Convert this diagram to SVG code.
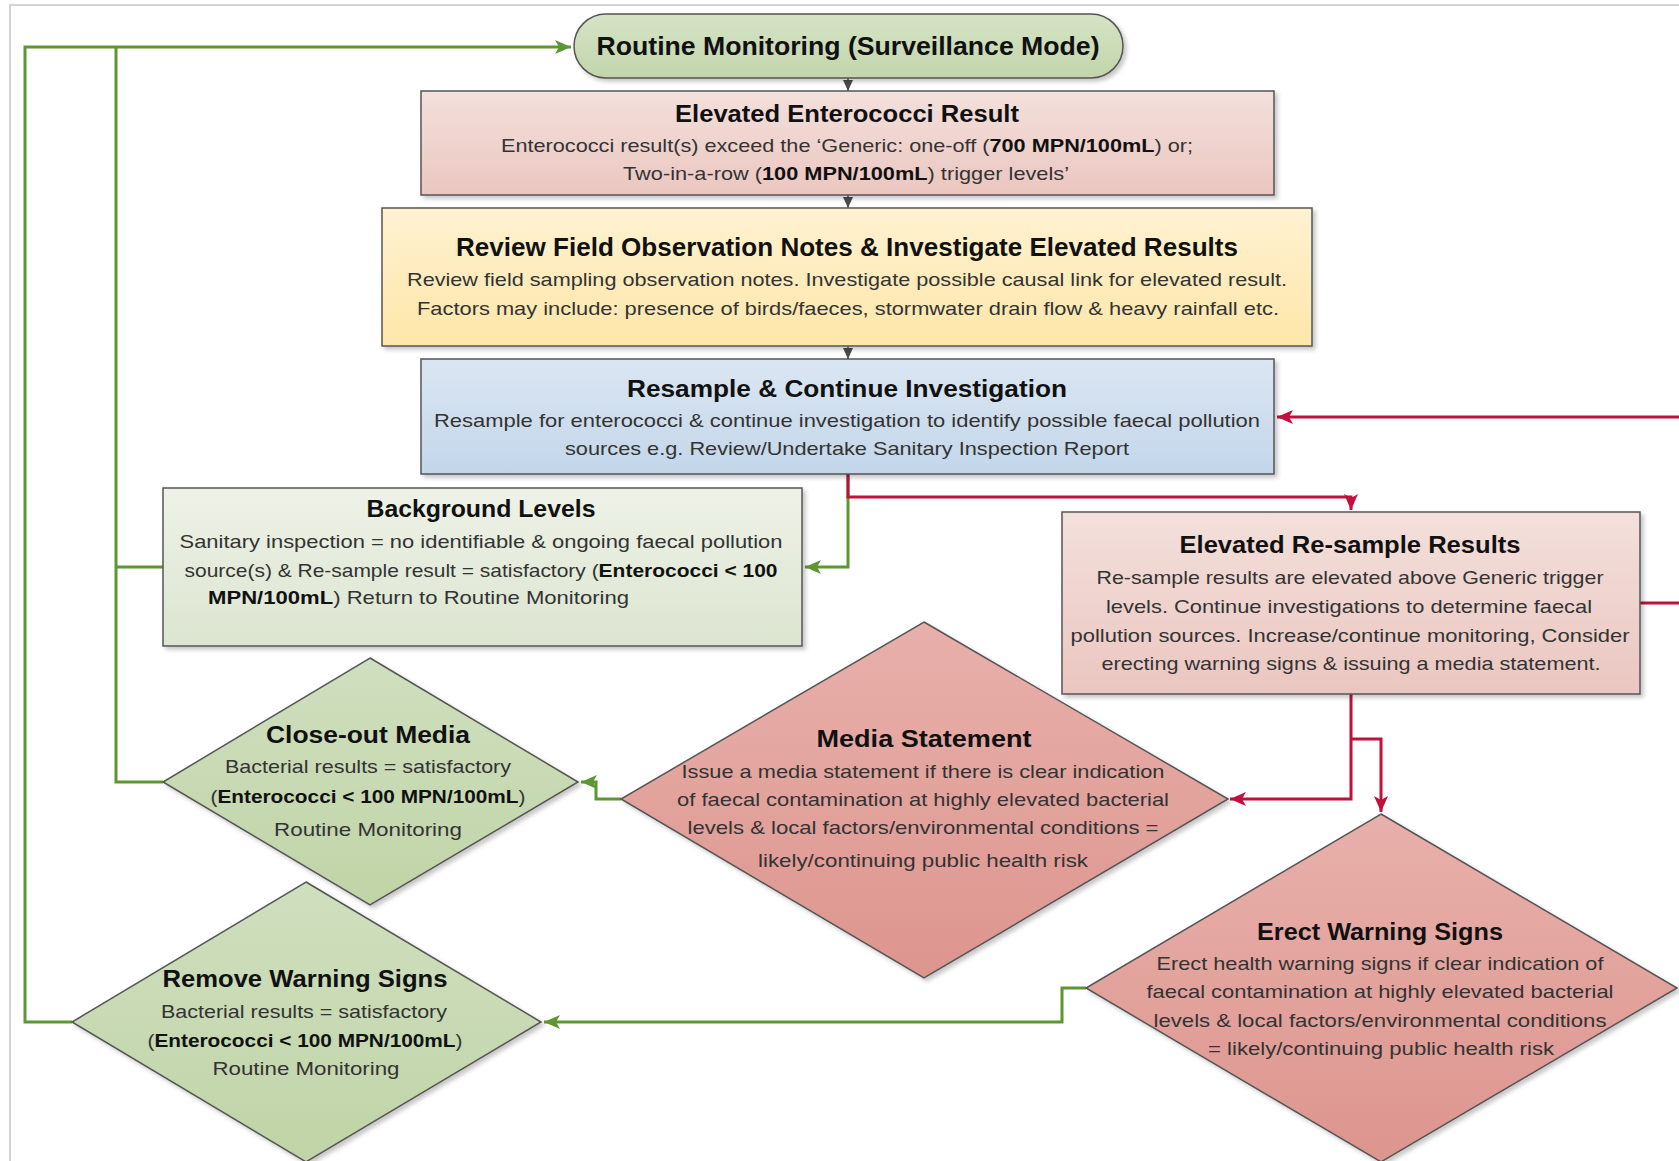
<svg xmlns="http://www.w3.org/2000/svg" width="1679" height="1161" viewBox="0 0 1679 1161">
<style>
text{font-family:"Liberation Sans",Arial,sans-serif;}
.t{font-size:23.5px;font-weight:bold;fill:#111;text-anchor:middle;}
.b{font-size:19px;fill:#333;text-anchor:middle;}
.bb{font-weight:bold;fill:#111;}
.box{stroke:#555;stroke-width:1.5;filter:url(#sh);}
.g{fill:none;stroke:#5e9632;stroke-width:3;}
.r{fill:none;stroke:#c0103c;stroke-width:3;}
.k{fill:none;stroke:#555;stroke-width:1.5;}
</style>
<defs>
<filter id="sh" x="-5%" y="-5%" width="115%" height="115%">
<feDropShadow dx="3" dy="3" stdDeviation="2" flood-color="#000" flood-opacity="0.22"/>
</filter>
<linearGradient id="gGreen" x1="0" y1="0" x2="0" y2="1"><stop offset="0" stop-color="#d6e3c6"/><stop offset="1" stop-color="#c2d5aa"/></linearGradient>
<linearGradient id="gPink" x1="0" y1="0" x2="0" y2="1"><stop offset="0" stop-color="#f3e0dc"/><stop offset="1" stop-color="#ebc6c0"/></linearGradient>
<linearGradient id="gYellow" x1="0" y1="0" x2="0" y2="1"><stop offset="0" stop-color="#fff2d2"/><stop offset="1" stop-color="#fde6a8"/></linearGradient>
<linearGradient id="gBlue" x1="0" y1="0" x2="0" y2="1"><stop offset="0" stop-color="#dbe6f2"/><stop offset="1" stop-color="#c3d6ea"/></linearGradient>
<linearGradient id="gLight" x1="0" y1="0" x2="0" y2="1"><stop offset="0" stop-color="#eef2e8"/><stop offset="1" stop-color="#dce5d0"/></linearGradient>
<linearGradient id="gRed" x1="0" y1="0" x2="0" y2="1"><stop offset="0" stop-color="#e8b0ab"/><stop offset="1" stop-color="#dd958e"/></linearGradient>
<linearGradient id="gDG" x1="0" y1="0" x2="0" y2="1"><stop offset="0" stop-color="#d0dfbf"/><stop offset="1" stop-color="#c0d4a7"/></linearGradient>
<marker id="aG" markerUnits="userSpaceOnUse" markerWidth="17" markerHeight="14" refX="16" refY="7" orient="auto"><path d="M0,0 L16,7 L0,14 L4,7 z" fill="#5e9632"/></marker>
<marker id="aR" markerUnits="userSpaceOnUse" markerWidth="17" markerHeight="14" refX="16" refY="7" orient="auto"><path d="M0,0 L16,7 L0,14 L4,7 z" fill="#c0103c"/></marker>
<marker id="aK" markerUnits="userSpaceOnUse" markerWidth="12" markerHeight="12" refX="11" refY="5" orient="auto"><path d="M0,0 L11,5 L0,10 z" fill="#4a4a4a"/></marker>
</defs>
<rect width="1679" height="1161" fill="#fff"/>
<path d="M10,1161 V5 H1679" fill="none" stroke="#d4d4d4" stroke-width="2"/>

<g id="connectors">
<path class="g" d="M72,1022 H25 V47 H571" marker-end="url(#aG)"/>
<path class="g" d="M163,782 H116 V47"/>
<path class="g" d="M163,567 H116"/>
<path class="g" d="M848,474 V567 H805" marker-end="url(#aG)"/>
<path class="r" d="M848,474 V497 H1351 V510" marker-end="url(#aR)"/>
<path class="r" d="M1640,603 H1700 V417 H1277" marker-end="url(#aR)"/>
<path class="r" d="M1351,694 V799 H1230" marker-end="url(#aR)"/>
<path class="r" d="M1351,739 H1381 V812" marker-end="url(#aR)"/>
<path class="g" d="M621,799 H596 V782 H581" marker-end="url(#aG)"/>
<path class="g" d="M1086,988 H1062 V1022 H544" marker-end="url(#aG)"/>
<path class="k" d="M848,78 V91" marker-end="url(#aK)"/>
<path class="k" d="M848,195 V208" marker-end="url(#aK)"/>
<path class="k" d="M848,346 V359" marker-end="url(#aK)"/>
</g>

<g id="routine">
<rect class="box" x="574" y="14" width="549" height="64" rx="32" fill="url(#gGreen)"/>
<text class="t" x="848" y="55" style="font-size:25px" textLength="503" lengthAdjust="spacingAndGlyphs">Routine Monitoring (Surveillance Mode)</text>
</g>

<g id="elevated-enterococci">
<rect class="box" x="421" y="91" width="853" height="104" fill="url(#gPink)"/>
<text class="t" x="847" y="122" textLength="344" lengthAdjust="spacingAndGlyphs">Elevated Enterococci Result</text>
<text class="b" x="847" y="152" textLength="692" lengthAdjust="spacingAndGlyphs">Enterococci result(s) exceed the ‘Generic: one-off (<tspan class="bb">700 MPN/100mL</tspan>) or;</text>
<text class="b" x="846" y="180" textLength="446" lengthAdjust="spacingAndGlyphs">Two-in-a-row (<tspan class="bb">100 MPN/100mL</tspan>) trigger levels’</text>
</g>

<g id="review">
<rect class="box" x="382" y="208" width="930" height="138" fill="url(#gYellow)"/>
<text class="t" x="847" y="256" style="font-size:25px" textLength="782" lengthAdjust="spacingAndGlyphs">Review Field Observation Notes &amp; Investigate Elevated Results</text>
<text class="b" x="847" y="286" textLength="880" lengthAdjust="spacingAndGlyphs">Review field sampling observation notes. Investigate possible causal link for elevated result.</text>
<text class="b" x="848" y="315" textLength="862" lengthAdjust="spacingAndGlyphs">Factors may include: presence of birds/faeces, stormwater drain flow &amp; heavy rainfall etc.</text>
</g>

<g id="resample">
<rect class="box" x="421" y="359" width="853" height="115" fill="url(#gBlue)"/>
<text class="t" x="847" y="397" textLength="440" lengthAdjust="spacingAndGlyphs">Resample &amp; Continue Investigation</text>
<text class="b" x="847" y="427" textLength="826" lengthAdjust="spacingAndGlyphs">Resample for enterococci &amp; continue investigation to identify possible faecal pollution</text>
<text class="b" x="847" y="455" textLength="564" lengthAdjust="spacingAndGlyphs">sources e.g. Review/Undertake  Sanitary Inspection Report</text>
</g>

<g id="background-levels">
<rect class="box" x="163" y="488" width="639" height="158" fill="url(#gLight)"/>
<text class="t" x="481" y="517" textLength="229" lengthAdjust="spacingAndGlyphs">Background Levels</text>
<text class="b" x="481" y="548" textLength="603" lengthAdjust="spacingAndGlyphs">Sanitary inspection = no identifiable &amp; ongoing faecal pollution</text>
<text class="b" x="481" y="577" textLength="593" lengthAdjust="spacingAndGlyphs">source(s) &amp; Re-sample result = satisfactory (<tspan class="bb">Enterococci &lt; 100</tspan></text>
<text class="b" x="208" y="604" style="text-anchor:start" textLength="421" lengthAdjust="spacingAndGlyphs"><tspan class="bb">MPN/100mL</tspan>) Return to Routine Monitoring</text>
</g>

<g id="elevated-resample">
<rect class="box" x="1062" y="512" width="578" height="182" fill="url(#gPink)"/>
<text class="t" x="1350" y="553" textLength="341" lengthAdjust="spacingAndGlyphs">Elevated Re-sample Results</text>
<text class="b" x="1350" y="584" textLength="507" lengthAdjust="spacingAndGlyphs">Re-sample results are elevated above Generic trigger</text>
<text class="b" x="1349" y="613" textLength="486" lengthAdjust="spacingAndGlyphs">levels. Continue investigations to determine faecal</text>
<text class="b" x="1350" y="642" textLength="559" lengthAdjust="spacingAndGlyphs">pollution sources. Increase/continue monitoring, Consider</text>
<text class="b" x="1351" y="670" textLength="499" lengthAdjust="spacingAndGlyphs">erecting warning signs &amp; issuing a media statement.</text>
</g>

<g id="media-statement">
<polygon class="box" points="924,622 1228,799 924,978 621,799" fill="url(#gRed)"/>
<text class="t" x="924" y="747" textLength="215" lengthAdjust="spacingAndGlyphs">Media Statement</text>
<text class="b" x="923" y="778" textLength="483" lengthAdjust="spacingAndGlyphs">Issue a media statement if there is clear indication</text>
<text class="b" x="923" y="806" textLength="492" lengthAdjust="spacingAndGlyphs">of faecal contamination at highly elevated bacterial</text>
<text class="b" x="923" y="834" textLength="471" lengthAdjust="spacingAndGlyphs">levels &amp; local factors/environmental conditions =</text>
<text class="b" x="923" y="867" textLength="330" lengthAdjust="spacingAndGlyphs">likely/continuing public health risk</text>
</g>

<g id="close-out-media">
<polygon class="box" points="370,658 578,782 370,905 163,782" fill="url(#gDG)"/>
<text class="t" x="368" y="743" textLength="204" lengthAdjust="spacingAndGlyphs">Close-out Media</text>
<text class="b" x="368" y="773" textLength="286" lengthAdjust="spacingAndGlyphs">Bacterial results = satisfactory</text>
<text class="b" x="368" y="803" textLength="315" lengthAdjust="spacingAndGlyphs">(<tspan class="bb">Enterococci &lt; 100 MPN/100mL</tspan>)</text>
<text class="b" x="368" y="836" textLength="188" lengthAdjust="spacingAndGlyphs">Routine Monitoring</text>
</g>

<g id="remove-warning-signs">
<polygon class="box" points="306,882 541,1022 306,1162 72,1022" fill="url(#gDG)"/>
<text class="t" x="305" y="987" textLength="285" lengthAdjust="spacingAndGlyphs">Remove Warning Signs</text>
<text class="b" x="304" y="1018" textLength="286" lengthAdjust="spacingAndGlyphs">Bacterial results = satisfactory</text>
<text class="b" x="305" y="1047" textLength="315" lengthAdjust="spacingAndGlyphs">(<tspan class="bb">Enterococci &lt; 100 MPN/100mL</tspan>)</text>
<text class="b" x="306" y="1075" textLength="187" lengthAdjust="spacingAndGlyphs">Routine Monitoring</text>
</g>

<g id="erect-warning-signs">
<polygon class="box" points="1381,814 1677,988 1381,1162 1086,988" fill="url(#gRed)"/>
<text class="t" x="1380" y="940" textLength="246" lengthAdjust="spacingAndGlyphs">Erect Warning Signs</text>
<text class="b" x="1380" y="970" textLength="447" lengthAdjust="spacingAndGlyphs">Erect health warning signs if clear indication of</text>
<text class="b" x="1380" y="998" textLength="467" lengthAdjust="spacingAndGlyphs">faecal contamination at highly elevated bacterial</text>
<text class="b" x="1380" y="1027" textLength="453" lengthAdjust="spacingAndGlyphs">levels &amp; local factors/environmental conditions</text>
<text class="b" x="1381" y="1055" textLength="346" lengthAdjust="spacingAndGlyphs">= likely/continuing public health risk</text>
</g>
</svg>
